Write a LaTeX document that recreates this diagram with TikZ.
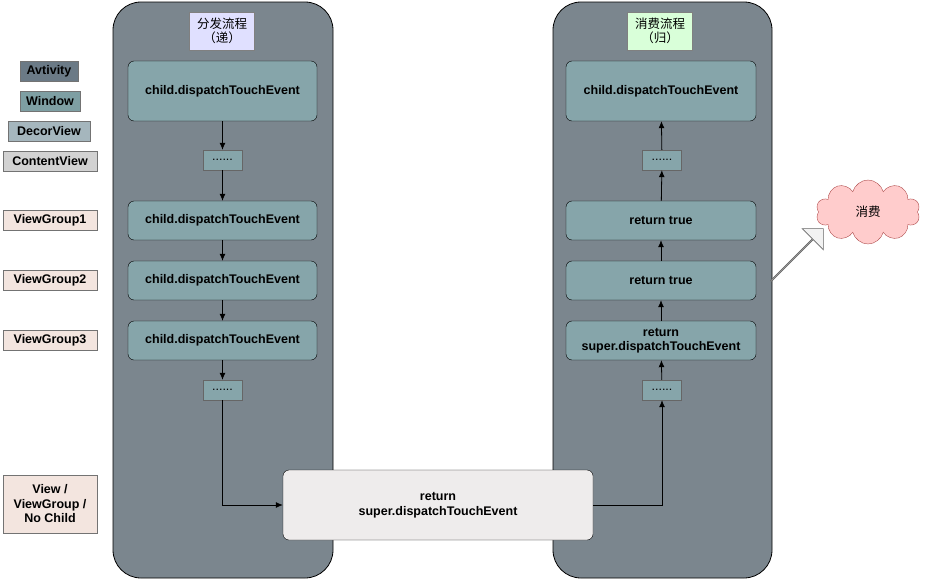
\documentclass[tikz,border=0pt]{standalone}
\usepackage{fontspec}
\setmainfont{Liberation Sans}
\newfontfamily\cjk{Noto Sans CJK SC}
\usetikzlibrary{shapes.symbols,shapes.arrows,arrows.meta}
\definecolor{colfill}{HTML}{7B868E}
\definecolor{boxfill}{HTML}{86A5AA}
\definecolor{actf}{HTML}{6B7A86}
\definecolor{winf}{HTML}{7E9FA3}
\definecolor{decf}{HTML}{A5B6BD}
\definecolor{conf}{HTML}{D2D2D2}
\definecolor{vgf}{HTML}{F3E5DF}
\definecolor{botf}{HTML}{EEECEC}
\newcommand{\fs}{\fontsize{12.5}{14.5}\selectfont}
\begin{document}
\begin{tikzpicture}[x=1pt,y=-1pt,
  col/.style={draw=black,fill=colfill,rounded corners=28pt,line width=0.8pt},
  box/.style={draw=black,fill=boxfill,rounded corners=6pt,font=\bfseries\fs,align=center,inner sep=0pt},
  dots/.style={draw=black!60,fill=boxfill,inner sep=0pt,minimum width=39pt,minimum height=20pt,font=\fs},
  lab/.style={draw=black!55,inner sep=0pt,minimum height=20pt,font=\bfseries\fs,align=center},
  arr/.style={-{Latex[length=7pt,width=6pt]},line width=0.8pt}]
\useasboundingbox (0,0) rectangle (932,581);
\draw[col] (113,2) rectangle (333,578);
\draw[col] (553,2) rectangle (772,578);
\node[draw=black!50,fill=blue!12,minimum width=65pt,minimum height=38pt,align=center,font=\cjk\fs,inner sep=0pt] (t1) at (222,31) {分发流程\\（递）};
\node[draw=black!50,fill=green!15,minimum width=65pt,minimum height=38pt,align=center,font=\cjk\fs,inner sep=0pt] (t2) at (660,31) {消费流程\\（归）};
% left
\node[box,minimum width=189pt,minimum height=60pt] (l1) at (222.5,91) {child.dispatchTouchEvent};
\node[dots] (ld1) at (222.5,160) {......};
\node[box,minimum width=189pt,minimum height=39pt] (l2) at (222.5,220.5) {child.dispatchTouchEvent};
\node[box,minimum width=189pt,minimum height=39pt] (l3) at (222.5,280.5) {child.dispatchTouchEvent};
\node[box,minimum width=189pt,minimum height=39pt] (l4) at (222.5,340.5) {child.dispatchTouchEvent};
\node[dots] (ld2) at (222.5,390) {......};
% right
\node[box,minimum width=190pt,minimum height=60pt] (r1) at (661,91) {child.dispatchTouchEvent};
\node[dots] (rd1) at (662,160) {......};
\node[box,minimum width=190pt,minimum height=39pt] (r2) at (661,220.5) {return true};
\node[box,minimum width=190pt,minimum height=39pt] (r3) at (661,280.5) {return true};
\node[box,minimum width=190pt,minimum height=39pt] (r4) at (661,340.5) {return\\super.dispatchTouchEvent};
\node[dots] (rd2) at (662,390) {......};
% bottom
\node[box,fill=botf,minimum width=310pt,minimum height=70pt] (b) at (438,505) {return\\super.dispatchTouchEvent};
% edges
\draw[arr] (l1) -- (ld1);
\draw[arr] (ld1) -- (l2);
\draw[arr] (l2) -- (l3);
\draw[arr] (l3) -- (l4);
\draw[arr] (l4) -- (ld2);
\draw[arr] (ld2) |- (b);
\draw[arr] (b.east) -| (rd2);
\draw[arr] (rd2) -- (r4);
\draw[arr] (r4) -- (r3);
\draw[arr] (r3) -- (r2);
\draw[arr] (r2) -- (rd1);
\draw[arr] (rd1) -- (r1);
% labels
\node[lab,fill=actf,minimum width=58pt] (a) at (49,71) {Avtivity};
\node[lab,fill=winf,minimum width=60pt] (w) at (50,101) {Window};
\node[lab,fill=decf,minimum width=82pt] (d) at (49,131) {DecorView};
\node[lab,fill=conf,minimum width=94pt] (c) at (50,161) {ContentView};
\node[lab,fill=vgf,minimum width=94pt] (v1) at (50,220) {ViewGroup1};
\node[lab,fill=vgf,minimum width=94pt] (v2) at (50,280) {ViewGroup2};
\node[lab,fill=vgf,minimum width=94pt] (v3) at (50,340) {ViewGroup3};
\node[lab,fill=vgf,minimum width=94pt,minimum height=58pt] (v4) at (50,504) {View /\\ViewGroup /\\No Child};
% cloud
\node[cloud,cloud puffs=10,draw=red!55!black!70,fill=red!20,minimum width=104pt,minimum height=64pt,font=\cjk\fs] (cl) at (868,212) {消费};
\node[single arrow,draw=black!60,fill=black!5,line width=0.7pt,rotate=45,minimum height=74pt,minimum width=30pt,single arrow head extend=8pt,inner sep=0pt] (bigarr) at (797,255) {};
\end{tikzpicture}
\end{document}
